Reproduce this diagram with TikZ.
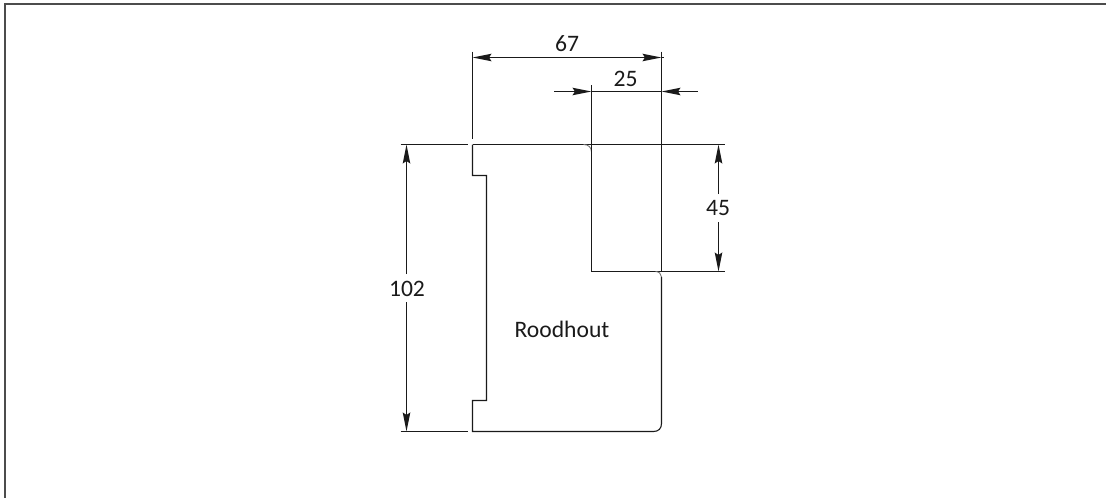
\documentclass[tikz,border=0pt]{standalone}
\usepackage{fontspec}
\setmainfont{Carlito}
\usetikzlibrary{arrows.meta}
\definecolor{ink}{HTML}{1A1A1A}
\tikzset{
  line/.style={draw=ink,line width=1.1pt},
  fillet/.style={draw=black!55,line width=0.9pt},
  tip/.tip={Stealth[length=19pt,width=7.5pt,inset=2.5pt]},
  dimarrow/.style={line,{tip}-{tip}},
  endarrow/.style={line,-{tip}},
  lbl/.style={inner sep=0pt,text=ink,font=\fontsize{23.6pt}{25pt}\selectfont},
  frame/.style={draw=black!70,line width=1.6pt}
}
\begin{document}
\begin{tikzpicture}[x=1pt,y=-1pt]
\useasboundingbox (0,0) rectangle (1106,498);
% frame
\coordinate (fa) at (5,498);
\coordinate (fb) at (5,4);
\coordinate (fc) at (1106,4);
\draw[frame] (fa) -- (fb) -- (fc);
% key points
\coordinate (tl) at (472.5,144.5);
\coordinate (bl) at (472.5,431.5);
\coordinate (cr) at (661.5,271.5);
\coordinate (ci) at (591.5,271.5);
% profile
\draw[line] (tl) -- (472.5,175.5) -- (486.5,175.5) -- (486.5,400.5) -- (472.5,400.5) -- (bl)
  -- (653.5,431.5) .. controls (658.5,431.5) and (661.5,428.5) .. (661.5,423.5) -- (661.5,277);
\draw[line] (tl) -- (725,144.5);
\draw[line] (ci) -- (725,271.5);
\draw[fillet] (583.5,144.5) .. controls (588.5,144.5) and (591.5,147.5) .. (591.5,152);
\draw[fillet] (655.5,271.5) .. controls (659,271.5) and (661.5,274) .. (661.5,277);
% extension lines
\coordinate (e1a) at (472.5,51.7);
\coordinate (e1b) at (472.5,139.3);
\coordinate (e2a) at (661.5,51.7);
\coordinate (e3a) at (591.5,85);
\draw[line] (e1a) -- (e1b);
\draw[line] (e2a) -- (cr);
\draw[line] (e3a) -- (ci);
\draw[line] (400.7,144.5) -- (467.7,144.5);
\draw[line] (400.7,431.5) -- (467.7,431.5);
% dims
\coordinate (d67a) at (472.5,57.5);
\coordinate (d67b) at (661.5,57.5);
\draw[dimarrow] (d67a) -- (d67b);
\draw[line] (d67b) -- (663.5,57.5);
\node[lbl] (t67) at (567,44) {67};
\coordinate (d25a) at (554,91.5);
\coordinate (d25b) at (591.5,91.5);
\coordinate (d25c) at (661.5,91.5);
\coordinate (d25d) at (697.7,91.5);
\draw[endarrow] (d25a) -- (d25b);
\draw[line] (d25b) -- (d25c);
\draw[endarrow] (d25d) -- (d25c);
\node[lbl] (t25) at (625.7,78.5) {25};
% 102
\coordinate (v1a) at (406.5,144.5);
\coordinate (v1b) at (406.5,431.5);
\node[lbl] (t102) at (407,289) {102};
\draw[endarrow] (406.5,274) -- (v1a);
\draw[endarrow] (406.5,302) -- (v1b);
% 45
\coordinate (v2a) at (718.5,144.5);
\coordinate (v2b) at (718.5,271.5);
\node[lbl] (t45) at (718,208.5) {45};
\draw[endarrow] (718.5,194) -- (v2a);
\draw[endarrow] (718.5,222) -- (v2b);
\node[lbl] (tr) at (562,329.5) {Roodhout};
\end{tikzpicture}
\end{document}
